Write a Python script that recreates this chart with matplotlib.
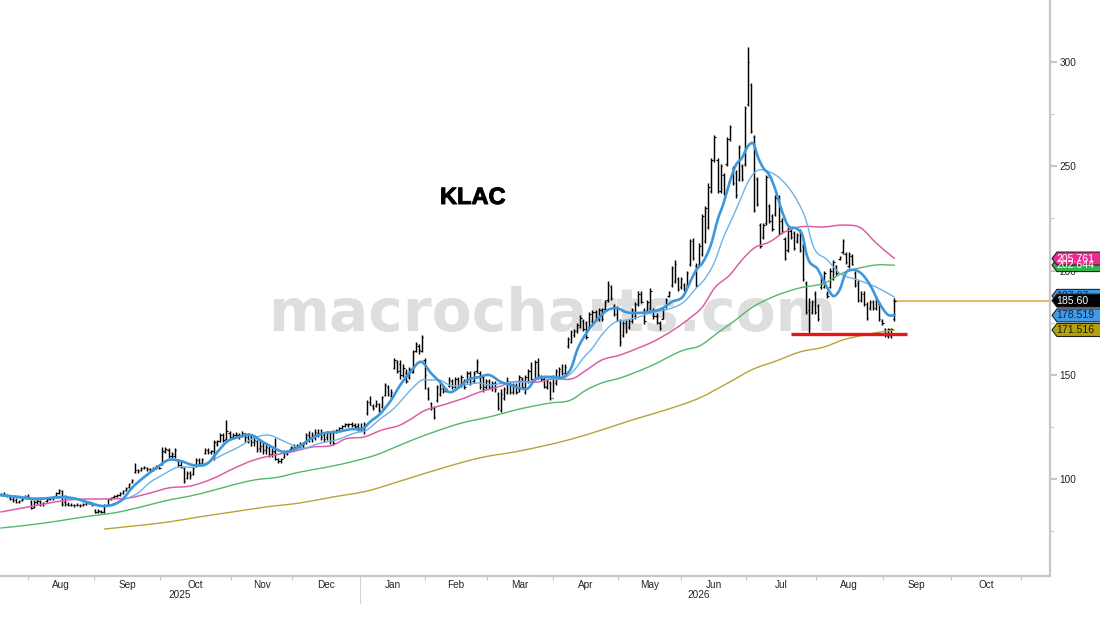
import numpy as np
import matplotlib
matplotlib.use("Agg")
import matplotlib.pyplot as plt
import matplotlib.patheffects as pe
from matplotlib.patches import PathPatch, Polygon
from matplotlib.path import Path
from matplotlib.lines import Line2D

# --- data ----------------------------------------------------------------

# daily bars, one row per 10 sessions
highs = [
    93.5, 94, 93, 92, 91.5, 91, 90, 91, 92.5, 93,
    90, 90, 91, 90, 89, 91, 91.5, 92, 94, 95.5,
    95, 92.5, 89, 88.5, 88, 88.5, 88, 88.5, 89, 89.5,
    89, 85.5, 85.5, 85, 88, 91, 91.5, 92.5, 93, 94,
    95, 96.5, 98, 100, 108, 105, 106, 106.5, 106, 105.5,
    106, 107, 106, 115.4, 115.4, 115, 113, 115, 109.5, 108.5,
    106, 104, 104, 106, 110, 110, 110, 115, 115, 114,
    118.8, 119, 122, 122, 128.4, 123, 122, 122.5, 122, 123,
    122, 122, 121, 121, 119, 118.5, 118, 117, 116, 115,
    119.8, 110, 110, 114, 114, 116, 117, 117, 118, 118,
    122, 123, 122.5, 124, 124, 124, 122, 123, 123, 123.6,
    124, 125, 126, 127, 127, 127.5, 127, 127, 127, 127.5,
    138, 140, 136, 138, 136.5, 140, 146, 145, 143, 158,
    157, 157, 155, 152.6, 154, 162, 166, 165, 169, 158,
    144, 137, 135, 145, 146, 144, 143.5, 149, 148, 149,
    149, 150, 148, 152, 152, 152, 157.5, 152, 150, 148,
    148, 147, 147, 142, 143, 144, 149, 147, 146, 146,
    150, 149, 150, 153, 156, 157, 158, 150, 149, 148,
    147, 150, 153, 154, 155, 155, 168, 171.5, 172, 175,
    178.5, 177, 176, 180, 181, 181, 182, 182, 186, 195,
    193, 184, 183, 177, 176, 176.5, 177, 182, 185, 190,
    190, 182, 186, 191.5, 182, 179.6, 176, 182, 187, 190,
    202, 205, 197, 197, 194, 200, 215, 215.5, 203.5, 213,
    227, 231, 242, 254, 265, 254, 251, 247, 264, 270,
    250, 248, 260, 251, 279, 307, 290, 265, 245, 223,
    223, 246, 232, 227, 236, 236, 225, 216, 221, 220,
    219, 218, 220, 213, 195, 187, 186, 190, 184, 197,
    200, 190, 201, 205, 202.5, 207, 215, 209, 209, 208,
    200, 195.5, 190, 190, 185, 186, 186, 188, 185, 177,
    172.7, 172.7, 172.7, 187,
]
lows = [
    92, 92, 91.5, 90, 89, 88.5, 88.5, 89.5, 91, 91,
    85.5, 86, 88, 87, 87, 89, 90, 90, 91, 93,
    87, 87, 87, 87, 86.8, 87, 86.8, 87, 87.5, 88,
    87, 84, 84, 83.8, 83.8, 87, 90, 91, 91.5, 92,
    93, 94.5, 96, 98, 103, 103, 104, 105, 104, 104,
    104, 105, 105, 106.8, 112.5, 110, 110, 110, 106, 105.5,
    98, 100, 100, 102, 106, 107, 107, 112, 112, 112,
    109, 116, 118, 118, 118.8, 119, 119.5, 120, 119.5, 120,
    118, 117.5, 116, 116, 113, 113, 112, 112, 110.5, 110.5,
    109, 108, 107.8, 110, 111.5, 114, 114, 114.5, 115, 115,
    117, 118, 118, 119, 120, 119, 118, 119, 117, 116.4,
    122, 123, 124, 125, 125, 125, 124, 123, 123, 121.8,
    131, 135.5, 133, 134.5, 132, 134, 140, 140, 139.5, 153,
    151, 148, 149, 146, 148, 151, 161, 160, 161, 143,
    138, 133, 129, 137, 140, 141.5, 142, 144, 143, 143.5,
    144, 144, 143, 146, 145, 146, 151, 143, 142, 143,
    143, 142.5, 142, 133, 132, 138, 141, 141, 141, 141,
    142, 143, 141, 146, 147, 148, 148, 147, 143.5, 143,
    138, 142, 145, 148, 150, 150, 163, 165.5, 168, 170,
    172.6, 171, 167, 172, 175, 176, 176, 176, 181, 185,
    186, 178, 176, 164, 168, 170, 172, 175, 177, 183,
    184.6, 174.6, 180, 181, 177, 174.6, 171.5, 176.7, 182, 187.5,
    192, 194, 190, 191, 190, 192, 202, 205, 192, 202,
    207, 213, 220, 237, 252, 237, 237, 236, 250, 262,
    241, 235, 243, 243, 250, 279, 266, 228, 231, 211,
    215, 222, 223, 219, 226, 217, 218, 205, 209, 215,
    210, 213, 209, 195, 179, 170, 179, 179, 176, 191,
    191.5, 187, 191.5, 195.5, 198, 205, 208, 203, 201, 202.5,
    192, 185, 185, 183, 176.5, 181, 181, 181, 176, 174,
    168, 167.8, 167.8, 176,
]
opens = [
    93, 93, 92.5, 91, 90.5, 90, 89, 90, 91.5, 92,
    89, 86.5, 89, 89.5, 88, 89.5, 90.5, 91, 92, 93.5,
    94.5, 89, 88, 87.5, 87.5, 87.5, 87.5, 87.5, 88, 88.5,
    88.5, 85, 84.5, 84.5, 84.5, 87.5, 90.5, 91.5, 92, 92.5,
    93.5, 95, 96.5, 98.5, 103.5, 104.5, 104.5, 105.5, 105.5, 105,
    104.5, 105.5, 106, 107.5, 113, 114, 111, 111, 109, 107,
    105.5, 100.5, 103, 102.5, 106.5, 109, 108, 112.5, 114, 113,
    113.5, 117, 118.5, 121, 119.5, 122, 120, 121, 121, 121,
    122, 120, 120, 118, 118.5, 115, 116, 114, 115, 112,
    113, 109.5, 108.5, 110.5, 112, 114.5, 115, 115.5, 116, 116.5,
    118, 121, 120, 120, 122, 122, 121, 120, 122, 122,
    122.5, 123.5, 124.5, 125.5, 126, 126.5, 126, 125.5, 124.5, 123,
    131.5, 137, 135, 135, 136, 134.5, 140.5, 144, 140, 153.5,
    156, 155, 150, 151, 149, 151.5, 161.5, 164, 161.5, 157,
    143, 136.5, 134, 138, 141, 143.5, 142.5, 144.5, 147, 144,
    148, 145, 147, 147, 151, 147, 152, 151, 149, 144,
    147, 144, 146, 141, 133, 139, 142, 146, 142, 145,
    143, 148, 142, 147, 152, 148, 156, 149, 148, 144,
    146, 139, 146, 149, 152, 151, 164, 166, 169, 171,
    173, 176, 175, 173, 176, 180, 177, 181, 181.5, 186,
    192, 183, 179, 176, 169, 175, 173, 176, 178, 184,
    189, 181, 181, 182, 181, 178, 175, 177, 183, 188,
    193, 195, 196, 192, 193, 193, 203, 214, 202, 203,
    208, 214, 221, 238, 253, 253, 238, 246, 251, 263,
    249, 247, 244, 250, 251, 280, 289, 264, 244, 222,
    216, 223, 231, 226, 227, 235, 224, 215, 210, 219,
    218, 214, 219, 212, 194, 181, 180, 189, 183, 192,
    192, 189, 192, 196, 202, 205.5, 209, 208, 202, 207,
    199, 194, 186, 189, 184, 182, 185, 182, 184, 176,
    172, 168.5, 168.5, 177,
]
closes = [
    93, 92.5, 92, 90.5, 90, 89, 89.5, 90.5, 92, 91.5,
    86, 89, 89.5, 88, 88.5, 90.5, 91, 91.5, 93.5, 95,
    88, 88, 87.5, 87.5, 87.5, 87.5, 87.5, 88, 88.5, 89,
    88, 84.5, 84.8, 84.5, 87.5, 90.5, 91, 92, 92.5, 93.5,
    94.5, 96, 97.5, 99.5, 104.5, 104, 105.5, 106, 105, 104.5,
    105.5, 106.5, 105.5, 113.5, 114.5, 111, 112, 114, 107, 106,
    99, 103, 102, 105.5, 109, 108, 109.5, 114, 113, 113.5,
    118, 118.5, 121, 119, 123, 120, 121, 121.5, 120.5, 122,
    120, 118.5, 118, 119, 114.5, 116, 114, 115.5, 112, 113.5,
    109.5, 108.5, 109.5, 113, 113.5, 115.5, 116, 116.5, 117, 117,
    121, 120, 121, 122.5, 122, 120, 119.5, 122, 118.5, 117.5,
    123.5, 124.5, 125.5, 126.5, 126.5, 126, 125, 124, 124, 126.5,
    137, 135.5, 134, 136, 133, 139.5, 145, 141, 142, 157,
    152, 150, 153.5, 147, 153, 161, 165, 162, 168, 150,
    139, 134, 130, 144, 143, 142.5, 143, 147.5, 144, 148,
    145, 149, 144, 151, 146, 151, 156, 144, 143, 147,
    144, 146, 143, 134, 141, 143, 147, 142, 145, 142,
    149, 144, 149, 152, 148, 156, 150, 148, 144.5, 147,
    139, 149, 152, 153, 151, 154, 167, 170.5, 171, 174,
    177.5, 172, 168, 179, 180, 177, 181, 177, 185, 193,
    187, 179, 182, 166, 175, 171, 176, 181, 184, 189,
    185, 176, 185, 190, 178, 175.5, 172.5, 181, 186, 189.5,
    201, 203, 191, 196, 191, 199, 214, 206, 193, 212,
    226, 230, 240, 253, 264, 238, 250, 237, 263, 269,
    242, 236, 259, 244, 278, 300, 267, 229, 232, 212,
    222, 245, 224, 220, 235, 218, 219, 206, 220, 216,
    211, 217, 210, 196, 180, 185, 185, 180, 177, 196,
    199, 188, 200, 204, 199, 206.5, 214, 204, 208, 203,
    193, 186, 189, 184, 177.5, 185, 182, 187, 177, 175,
    169, 172, 172, 185.6,
]

# moving averages: session number and value at the vertices
fast_days = [0, 5, 11, 16, 20, 25, 30, 34, 40, 43, 47, 51, 55, 59, 63, 68, 71, 74, 78, 82,
             86, 89, 93, 97, 101, 106, 110, 115, 119, 121, 124, 128, 131, 134, 138, 141, 144, 147, 150, 153,
             157, 160, 164, 167, 170, 173, 175, 178, 181, 185, 187, 189, 192, 196, 199, 202, 205, 209, 212, 217,
             220, 224, 226, 228, 230, 233, 235, 237, 239, 241, 243, 245, 247, 248, 250, 252, 254, 256, 258, 261,
             263, 264, 268, 271, 273, 275, 277, 279, 282, 285, 288, 291, 293]
fast_ma = [92.4, 91.5, 90.5, 91, 91.5, 90.5, 88.1, 87.1, 90.5, 95.8, 101, 105.4, 109.2, 108.7, 106.8, 107.8, 113, 117.8, 120.2, 121.2,
           117.8, 115.4, 113, 114.9, 118.8, 122.1, 122.6, 124, 124.5, 127.4, 130.8, 138, 145.2, 150.9, 156.2, 150.9, 146.6, 141.8, 143.7, 147.5,
           149, 150, 146.6, 145.2, 143.7, 143.7, 147.5, 149, 149, 149.5, 153.3, 162, 170, 177.3, 181.1, 182, 180.1, 179.7, 180.1, 182,
           185, 188.3, 194.5, 200.3, 203.6, 213.2, 224.2, 232.4, 242.5, 250.6, 254, 259.7, 260.2, 255.4, 249.2, 245.8, 238.6, 229, 221.8, 220,
           216.1, 208.9, 200.3, 191.7, 187.8, 190.7, 198.8, 200.3, 198.8, 193.1, 184.5, 178.7, 178.5]

slow_days = [0, 5, 11, 16, 20, 25, 30, 34, 40, 45, 49, 53, 58, 63, 68, 74, 78, 83, 87, 94,
             98, 105, 110, 116, 120, 124, 129, 132, 135, 138, 141, 144, 147, 152, 157, 160, 165, 169, 173, 176,
             180, 184, 188, 191, 194, 197, 201, 205, 209, 213, 216, 220, 224, 228, 230, 234, 237, 240, 242, 245,
             247, 252, 257, 261, 264, 266, 271, 275, 281, 287, 293]
slow_ma = [92.4, 92, 91, 91, 91, 90.5, 88.6, 87.1, 90, 93.4, 98.6, 102, 105.8, 105.8, 108.2, 112.6, 115.4, 119.7, 121.2, 117.4,
           114.9, 117.4, 118.8, 122.1, 123.6, 128.4, 134.1, 138.9, 143.7, 147.5, 147.5, 147.5, 145.2, 145.2, 146.1, 145.2, 146.1, 146.6, 146.6, 148.5,
           148.5, 148, 152.3, 158.1, 162.9, 169.1, 174.9, 176.3, 177.7, 179.7, 180.6, 182, 185, 191.6, 194.5, 204.1, 216.1, 225.7, 232.4, 242.5,
           246.8, 247.3, 242, 233.8, 224.2, 213.2, 205.1, 198.8, 195.5, 192.1, 187.3]

pink_days = [0, 9, 16, 22, 29, 35, 42, 49, 55, 62, 70, 76, 83, 88, 95, 102, 109, 113, 119, 125,
             131, 135, 138, 145, 152, 157, 163, 168, 176, 181, 188, 192, 197, 203, 209, 213, 221, 226, 230, 234,
             239, 243, 247, 252, 257, 262, 270, 276, 282, 287, 293]
pink_ma = [84.3, 86.7, 88.6, 90, 90.5, 90.5, 91, 93.4, 95.8, 96.7, 100.6, 104.9, 109.2, 111.1, 113, 115.4, 116.4, 119.3, 120.2, 123.6,
           126, 129.3, 132.2, 135.6, 138.9, 141.8, 144.2, 146.6, 146.6, 148, 148.5, 152.3, 157.1, 159.5, 162.9, 165.3, 172, 177.3, 182.5, 191.6,
           197.9, 205.1, 210.8, 213.7, 218.5, 220.9, 220.9, 221.8, 220.4, 213.2, 205.8]

green_days = [0, 9, 19, 29, 37, 46, 55, 62, 70, 76, 83, 91, 98, 107, 116, 123, 131, 135, 141, 151,
              160, 170, 180, 187, 192, 197, 203, 213, 224, 229, 235, 240, 246, 253, 262, 270, 276, 283, 287, 293]
green_ma = [76.6, 78, 80, 82.3, 83.8, 86.7, 90, 91.9, 94.8, 97.2, 99.6, 101, 103.4, 105.8, 108.7, 111.6, 116.4, 118.8, 122.1, 126.9,
            129.8, 133.6, 136.5, 138, 142.8, 146.1, 148.5, 154.2, 161.9, 163.8, 170.1, 175.3, 182, 187.3, 191.7, 194, 198.8, 201.7, 202.7, 202.6]

gold_days = [34, 43, 55, 65, 76, 87, 98, 109, 120, 131, 147, 157, 170, 186, 197, 207, 218, 229, 239, 246,
             255, 262, 270, 276, 283, 288, 293]
gold_ma = [76.1, 77.5, 79.5, 81.9, 84.3, 86.7, 88.6, 91.5, 94.3, 99.1, 106.3, 110.2, 113.5, 118.8, 123.6, 128.4, 133.2, 138.9, 146.6, 152.3,
           157.1, 161, 163.4, 166.7, 169.1, 170.5, 171.5]

# session number where each month begins, Aug 2025 to Nov 2026
month_starts = [9, 30.6, 52.2, 75.5, 95.5, 117.8, 139, 159.4, 181, 202.4, 223, 244.3, 267.3, 289.1, 311.6, 334.4]
month_names = ["Aug", "Sep", "Oct", "Nov", "Dec", "Jan", "Feb", "Mar", "Apr", "May", "Jun", "Jul", "Aug", "Sep", "Oct"]

support_days = [259, 297]
support_level = 169.4
last_day = 293
last_price = 185.60

# right-hand tags, bottom layer first
tag_values = [202.644, 205.761, 187.87, 178.519, 171.516, 185.60]
tag_labels = ["202.644", "205.761", "187.87", "178.519", "171.516", "185.60"]
tag_fills = ["#35b24a", "#ee2a92", "#3d9be9", "#3d9be9", "#b5a10a", "#000000"]
tag_texts = ["white", "white", "#10243e", "#10243e", "#1a1a00", "white"]

# --- constants -----------------------------------------------------------

W, H = 1100, 619
PLOT_RIGHT = 1050
PLOT_BOTTOM = 576
BAR_STEP = 3.05
BAR_ORIGIN = 0.8
GREY = "#c6c6c6"
FONT = "Liberation Sans"


def draw_bars(ax):
    days = np.arange(len(highs))
    ax.vlines(days, lows, highs, color="#000000", lw=1.05, zorder=3)
    ax.hlines(opens, days - 0.42, days, color="#000000", lw=0.85, zorder=3)
    ax.hlines(closes, days, days + 0.42, color="#000000", lw=0.85, zorder=3)


def draw_curve(ax, days, values, color, lw, zorder):
    """Draw the read-off vertices as one smooth bezier path, as the terminal's lines look."""
    x = np.asarray(days, dtype=float)
    y = np.asarray(values, dtype=float)
    slope = np.gradient(y, x)
    verts = [(x[0], y[0])]
    codes = [Path.MOVETO]
    for i in range(len(x) - 1):
        third = (x[i + 1] - x[i]) / 3
        verts += [(x[i] + third, y[i] + slope[i] * third),
                  (x[i + 1] - third, y[i + 1] - slope[i + 1] * third),
                  (x[i + 1], y[i + 1])]
        codes += [Path.CURVE4] * 3
    ax.add_patch(PathPatch(Path(verts, codes), fill=False, edgecolor=color, lw=lw,
                           capstyle="round", joinstyle="round", zorder=zorder))


def draw_averages(ax):
    draw_curve(ax, gold_days, gold_ma, "#b9a334", 1.0, 4)
    draw_curve(ax, green_days, green_ma, "#55b869", 1.0, 4)
    draw_curve(ax, pink_days, pink_ma, "#dd5fa4", 1.1, 4)
    draw_curve(ax, slow_days, slow_ma, "#6db3e6", 1.0, 5)
    draw_curve(ax, fast_days, fast_ma, "#3d97dc", 1.9, 6)


def draw_tag(fig, ax, value, label, fill, text_color):
    """Flag on the price axis, pointing left at its value."""
    y = ax.transData.transform((0, value))[1]
    x0, x1 = PLOT_RIGHT + 2, W + 4
    h = 6.5
    pts = [(x0, y), (x0 + 5, y + h), (x1, y + h), (x1, y - h), (x0 + 5, y - h)]
    fig.add_artist(Polygon(pts, closed=True, transform=None, facecolor=fill,
                           edgecolor="#222222", lw=0.8, zorder=10))
    fig.text(1056.5 / W, y / H, label, color=text_color, fontsize=7.6, family=FONT,
             va="center", ha="left", zorder=11)


def main():
    plt.rcParams["font.family"] = FONT
    fig = plt.figure(figsize=(W / 100, H / 100), dpi=100, facecolor="white")
    ax = fig.add_axes([0, 1 - PLOT_BOTTOM / H, PLOT_RIGHT / W, PLOT_BOTTOM / H])

    ax.set_xlim(-BAR_ORIGIN / BAR_STEP, (PLOT_RIGHT - BAR_ORIGIN) / BAR_STEP)
    ax.set_ylim(53.6, 329.7)

    for side in ["left", "top"]:
        ax.spines[side].set_visible(False)
    for side in ["right", "bottom"]:
        ax.spines[side].set_color(GREY)
        ax.spines[side].set_linewidth(1.6)

    # price axis
    ax.yaxis.tick_right()
    ax.set_yticks([100, 150, 200, 250, 300])
    ax.set_yticks([75, 125, 175, 225, 275], minor=True)
    ax.tick_params(axis="y", which="major", length=5, width=1.6, color=GREY,
                   labelsize=7.2, labelcolor="#222222", pad=2)
    ax.tick_params(axis="y", which="minor", length=3, width=0.8, color=GREY)

    # time axis: ticks at month starts, names centred between them
    ax.set_xticks(month_starts)
    ax.set_xticklabels([])
    centres = [(a + b) / 2 for a, b in zip(month_starts[:-1], month_starts[1:])]
    ax.set_xticks(centres, labels=month_names, minor=True)
    ax.tick_params(axis="x", which="major", length=3, width=0.8, color=GREY)
    ax.tick_params(axis="x", which="minor", length=0, labelsize=7.2,
                   labelcolor="#222222", pad=3)

    # watermark and ticker sit inside the axes so the bars draw over them
    ax.text(268 / W, 1 - 331 / H, "macrocharts.com", transform=fig.transFigure,
            fontsize=42, fontweight="bold", family="DejaVu Sans", color="#dedede",
            va="baseline", ha="left", zorder=1)
    ax.text(440 / W, 1 - 204 / H, "KLAC", transform=fig.transFigure, fontsize=17,
            fontweight="bold", family=FONT, color="black", va="baseline", ha="left", zorder=7,
            path_effects=[pe.withStroke(linewidth=0.7, foreground="black")])

    draw_bars(ax)
    draw_averages(ax)

    ax.plot(support_days, [support_level, support_level], color="#e3161b", lw=2.4,
            solid_capstyle="butt", zorder=7)
    ax.plot([last_day, ax.get_xlim()[1]], [last_price, last_price], color="#e5a042",
            lw=1.1, zorder=2)

    for value, label, fill, color in zip(tag_values, tag_labels, tag_fills, tag_texts):
        draw_tag(fig, ax, value, label, fill, color)

    # year captions and the divider between them
    fig.text(180 / W, 1 - 595 / H, "2025", fontsize=7.2, color="#222222", ha="center", va="center")
    fig.text(699 / W, 1 - 595 / H, "2026", fontsize=7.2, color="#222222", ha="center", va="center")
    fig.add_artist(Line2D([360 / W, 360 / W], [1 - 578 / H, 1 - 603 / H], color="#d4d4d4", lw=0.8))

    fig.savefig("out.png", dpi=100, facecolor="white")


if __name__ == "__main__":
    main()
